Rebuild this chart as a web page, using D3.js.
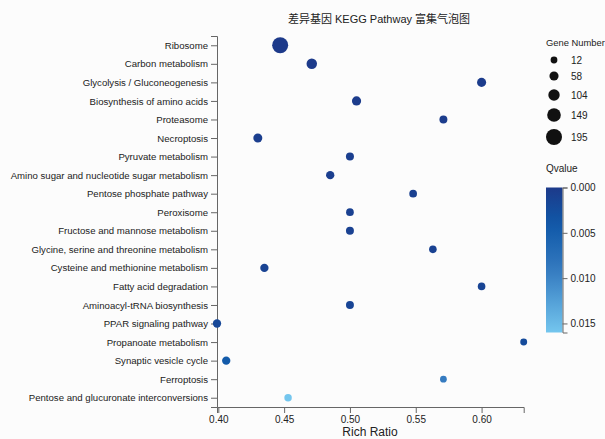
<!DOCTYPE html>
<html>
<head>
<meta charset="utf-8">
<script src="https://cdn.jsdelivr.net/npm/d3@7"></script>
<style>
  body { margin: 0; background: #fcfcfc; }
  text { font-family: "Liberation Sans", Arial, "Noto Sans CJK SC", sans-serif; fill: #222; }
  .title { font-family: "Liberation Sans", "Noto Sans CJK SC", sans-serif; }
  .axis path, .axis line { stroke: #666; }
</style>
</head>
<body>
<div id="chart"></div>
<script>
const pathways = [
  'Ribosome', 'Carbon metabolism', 'Glycolysis / Gluconeogenesis', 'Biosynthesis of amino acids',
  'Proteasome', 'Necroptosis', 'Pyruvate metabolism', 'Amino sugar and nucleotide sugar metabolism',
  'Pentose phosphate pathway', 'Peroxisome', 'Fructose and mannose metabolism',
  'Glycine, serine and threonine metabolism', 'Cysteine and methionine metabolism',
  'Fatty acid degradation', 'Aminoacyl-tRNA biosynthesis', 'PPAR signaling pathway',
  'Propanoate metabolism', 'Synaptic vesicle cycle', 'Ferroptosis',
  'Pentose and glucuronate interconversions'
]
const richRatio = [0.447, 0.471, 0.600, 0.505, 0.571, 0.430, 0.500, 0.485, 0.548, 0.500,
  0.500, 0.563, 0.435, 0.600, 0.500, 0.399, 0.632, 0.406, 0.571, 0.453]
const geneNumber = [195, 85, 58, 60, 35, 55, 36, 42, 30, 30,
  35, 28, 42, 28, 35, 42, 15, 42, 12, 25]
const qvalue = [0.0000, 0.0001, 0.0002, 0.0003, 0.0004, 0.0005, 0.0006, 0.0007, 0.0008, 0.0009,
  0.0010, 0.0011, 0.0012, 0.0013, 0.0014, 0.0018, 0.0022, 0.0045, 0.0092, 0.0160]
const sizeLegendValues = [12, 58, 104, 149, 195]
const qTicks = [0, 0.005, 0.010, 0.015]
const xTicks = [0.40, 0.45, 0.50, 0.55, 0.60]

const width = 605
const height = 439
const plot = { left: 217, right: 523.7, top: 36, bottom: 407 }

const data = pathways.map((name, i) => ({ name, ratio: richRatio[i], genes: geneNumber[i], q: qvalue[i] }))

const svg = d3.select('#chart').append('svg').attr('width', width).attr('height', height)

const x = d3.scaleLinear().domain(d3.extent(richRatio)).range([plot.left, plot.right])
const y = d3.scalePoint().domain(pathways).range([plot.top, plot.bottom]).padding(0.5)
const r = d3.scaleLinear().domain(d3.extent(geneNumber)).range([3.4, 8])
const color = d3.scaleLinear()
  .domain([0, 0.004, 0.009, d3.max(qvalue)])
  .range(['#1d3a8a', '#0f58a8', '#3379bf', '#74c6ee'])

// axes
const xAxisGroup = svg.append('g').attr('class', 'axis')
  .attr('transform', `translate(0, ${plot.bottom})`)
  .call(d3.axisBottom(x).tickValues(xTicks).tickFormat(d3.format('.2f')).tickSizeOuter(6))
xAxisGroup.selectAll('text').attr('font-size', 10).style('fill', '#222')
const yAxisGroup = svg.append('g').attr('class', 'axis')
  .attr('transform', `translate(${plot.left}, 0)`)
  .call(d3.axisLeft(y).tickSizeOuter(6))
yAxisGroup.selectAll('text').attr('font-size', 9.6).style('fill', '#222')

// bubbles
svg.append('g').selectAll('circle').data(data).enter()
  .append('circle')
  .attr('cx', d => x(d.ratio))
  .attr('cy', d => y(d.name))
  .attr('r', d => r(d.genes))
  .attr('fill', d => color(d.q))

// title and axis label
svg.append('text').attr('class', 'title')
  .attr('x', 379).attr('y', 23)
  .attr('text-anchor', 'middle').attr('font-size', 11)
  .text('差异基因 KEGG Pathway 富集气泡图')
svg.append('text')
  .attr('x', 370).attr('y', 436)
  .attr('text-anchor', 'middle').attr('font-size', 12)
  .text('Rich Ratio')

// size legend
const sizeLegend = svg.append('g').attr('transform', 'translate(546, 0)')
sizeLegend.append('text').attr('x', 0).attr('y', 46).attr('font-size', 9.4).text('Gene Number')
const sizeY = [60, 76, 95, 115, 137]
sizeLegendValues.forEach((v, i) => {
  sizeLegend.append('circle').attr('cx', 8).attr('cy', sizeY[i]).attr('r', r(v)).attr('fill', '#111')
  sizeLegend.append('text').attr('x', 25).attr('y', sizeY[i] + 3.5).attr('font-size', 10).text(v)
})

// color legend
const colorLegend = svg.append('g')
colorLegend.append('text').attr('x', 546).attr('y', 172).attr('font-size', 10).text('Qvalue')
const qScale = d3.scaleLinear().domain([0, d3.max(qvalue)]).range([187.5, 332.5])
const defs = svg.append('defs')
const grad = defs.append('linearGradient').attr('id', 'qgrad')
  .attr('x1', 0).attr('y1', 0).attr('x2', 0).attr('y2', 1)
d3.range(0, 1.0001, 0.1).forEach(t => {
  grad.append('stop').attr('offset', t).attr('stop-color', color(t * d3.max(qvalue)))
})
colorLegend.append('rect')
  .attr('x', 546).attr('y', 187.5).attr('width', 16.5).attr('height', 145)
  .attr('fill', 'url(#qgrad)')
colorLegend.append('g').attr('class', 'axis')
  .attr('transform', 'translate(562.5, 0)')
  .call(d3.axisRight(qScale).tickValues(qTicks).tickFormat(d3.format('.3f')).tickSize(5).tickSizeOuter(5))
  .selectAll('text').attr('font-size', 10).style('fill', '#222')
</script>
</body>
</html>
